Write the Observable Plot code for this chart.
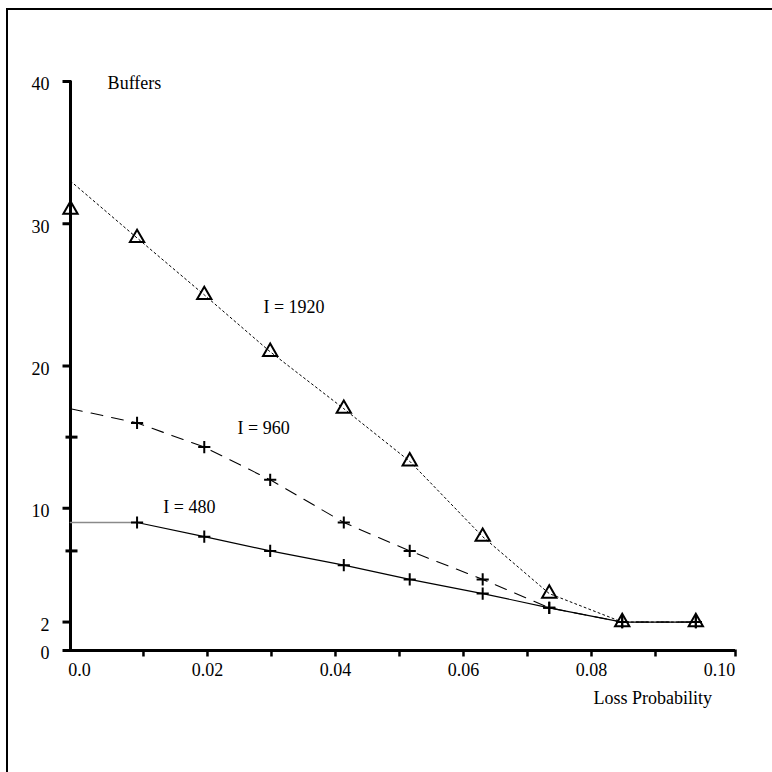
<!DOCTYPE html>
<html><head><meta charset="utf-8">
<script src="https://cdn.jsdelivr.net/npm/d3@7"></script>
<script src="https://cdn.jsdelivr.net/npm/@observablehq/plot@0.6"></script>
<style>
html,body{margin:0;padding:0;background:#fff;overflow:hidden;}
#chart{position:absolute;left:0;top:0;}
#frame{position:absolute;left:6px;top:8px;width:820px;height:820px;border-left:2px solid #000;border-top:2px solid #000;pointer-events:none;}
</style></head>
<body><div id="chart"></div><div id="frame"></div>
<script>
// ---- data ----
const lossProbability = [0.009, 0.0195, 0.0298, 0.0413, 0.0516, 0.063, 0.0734, 0.0848, 0.0963];
const buffers480  = [9, 8, 7, 6, 5, 4, 3, 2, 2];
const buffers960  = [16, 14.3, 12, 9, 7, 5, 3, 2, 2];
const buffers1920 = [29, 25, 21, 17, 13.3, 8, 4, 2, 2];
// values where each curve meets the Buffers axis
const axisStart480 = 9, axisStart960 = 17, axisStart1920 = 33;
const axisPoint1920 = 31; // triangle drawn on the axis

const xDomain = [-0.0014, 0.1025];
const yDomain = [0, 40];
const xTickValues = [0.01, 0.02, 0.03, 0.04, 0.05, 0.06, 0.07, 0.08, 0.09, xDomain[1]];
const xTickLabelValues = [0, 0.02, 0.04, 0.06, 0.08, 0.10];
const xTickLabels = ["0.0", "0.02", "0.04", "0.06", "0.08", "0.10"];
const yMajorTicks = [0, 2, 10, 20, 30, 40];
const yMajorLabels = ["0", "2", "10", "20", "30", "40"];
const yMinorTicks = [7, 15];

const seriesNames = ["I = 1920", "I = 960", "I = 480"];
const seriesLabelX = [0.02875, 0.0247, 0.0131];
const seriesLabelY = [24.1, 15.66, 10.04];

// ---- build tables ----
const x0 = xDomain[0];
const pts = (ys) => lossProbability.map((x, i) => ({x, y: ys[i]}));
const seg480Gray = [{x: x0, y: axisStart480}, {x: lossProbability[0], y: buffers480[0]}];
const line480 = pts(buffers480);
const line960 = [{x: x0, y: axisStart960}, ...pts(buffers960)];
const line1920 = [{x: x0, y: axisStart1920}, ...pts(buffers1920)];
const plusPts = [...pts(buffers480), ...pts(buffers960)];
const triPts = [{x: x0, y: axisPoint1920}, ...pts(buffers1920)];

const tickLeft = {draw(c){ c.moveTo(-8, 0); c.lineTo(1, 0); }};
const tickCross = {draw(c){ c.moveTo(-5, 0); c.lineTo(7, 0); }};
const tickDown = {draw(c){ c.moveTo(0, -1); c.lineTo(0, 6); }};

const font = "Liberation Serif, Times New Roman, serif";

const chart = Plot.plot({
  width: 772, height: 772,
  marginLeft: 70, marginRight: 37, marginTop: 81, marginBottom: 122,
  x: {domain: xDomain, axis: null},
  y: {domain: yDomain, axis: null},
  style: {fontFamily: font, fontSize: "18px", background: "transparent", color: "#000", overflow: "visible"},
  marks: [
    // axes
    Plot.ruleX([x0], {y1: yDomain[0], y2: yDomain[1], stroke: "#000", strokeWidth: 3}),
    Plot.ruleY([0], {x1: xDomain[0], x2: xDomain[1], stroke: "#000", strokeWidth: 3}),
    Plot.dot(yMajorTicks, {x: () => x0, y: d => d, symbol: tickLeft, r: 1, fill: "none", stroke: "#000", strokeWidth: 3}),
    Plot.dot(yMinorTicks, {x: () => x0, y: d => d, symbol: tickCross, r: 1, fill: "none", stroke: "#000", strokeWidth: 3}),
    Plot.dot(xTickValues, {x: d => d, y: () => 0, symbol: tickDown, r: 1, fill: "none", stroke: "#000", strokeWidth: 2.5}),
    Plot.text(yMajorTicks, {x: () => x0, y: d => d, text: (d, i) => yMajorLabels[i], textAnchor: "end", dx: -21, dy: 3, fontSize: 18, fill: "#000"}),
    Plot.text(xTickLabelValues, {x: d => d, y: () => 0, text: (d, i) => xTickLabels[i], dy: 20, fontSize: 18, fill: "#000"}),
    Plot.text(["Buffers"], {x: () => 0.0044, y: () => 39.85, text: d => d, textAnchor: "start", fontSize: 18, fill: "#000"}),
    Plot.text(["Loss Probability"], {x: () => 0.0803, y: () => -3.37, text: d => d, textAnchor: "start", fontSize: 18, fill: "#000"}),
    // curves
    Plot.line(seg480Gray, {x: "x", y: "y", stroke: "#8a8a8a", strokeWidth: 1.6}),
    Plot.line(line480, {x: "x", y: "y", stroke: "#000", strokeWidth: 1.2}),
    Plot.line(line960, {x: "x", y: "y", stroke: "#000", strokeWidth: 1.1, strokeDasharray: "12,9"}),
    Plot.line(line1920, {x: "x", y: "y", stroke: "#000", strokeWidth: 1, strokeDasharray: "2,3"}),
    Plot.dot(plusPts, {x: "x", y: "y", symbol: "plus", r: 4, stroke: "#000", strokeWidth: 2}),
    Plot.dot(triPts, {x: "x", y: "y", symbol: "triangle", r: 5.3, fill: "none", stroke: "#000", strokeWidth: 2}),
    // series labels
    Plot.text(seriesNames, {x: (d, i) => seriesLabelX[i], y: (d, i) => seriesLabelY[i], text: d => d, textAnchor: "start", fontSize: 18, fill: "#000"})
  ]
});
document.getElementById("chart").appendChild(chart);
</script>
</body></html>
